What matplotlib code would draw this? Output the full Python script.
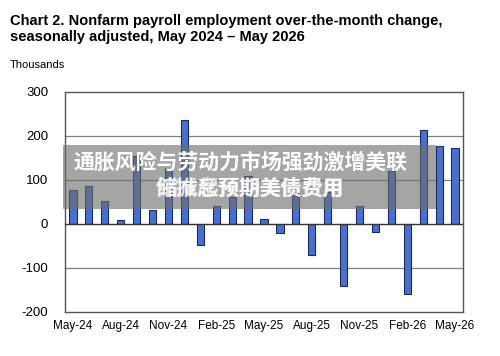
import matplotlib
matplotlib.use('Agg')
import matplotlib.pyplot as plt
from matplotlib.patches import Rectangle

plt.rcParams['font.family'] = ['Liberation Sans', 'DejaVu Sans']

months = ['May-24', 'Jun-24', 'Jul-24', 'Aug-24', 'Sep-24', 'Oct-24', 'Nov-24', 'Dec-24',
          'Jan-25', 'Feb-25', 'Mar-25', 'Apr-25', 'May-25', 'Jun-25', 'Jul-25', 'Aug-25',
          'Sep-25', 'Oct-25', 'Nov-25', 'Dec-25', 'Jan-26', 'Feb-26', 'Mar-26', 'Apr-26',
          'May-26']
change = [78, 87, 52, 8, 155, 32, 127, 236,
          -48, 41, 61, 108, 12, -20, 70, -71,
          72, -142, 41, -18, 121, -158, 214, 178,
          172]
yticks = [-200, -100, 0, 100, 200, 300]

title = ('Chart 2. Nonfarm payroll employment over-the-month change,\n'
         'seasonally adjusted, May 2024 \u2013 May 2026')
banner1 = '通胀风险与劳动力市场强劲激增美联'
banner2a = '储推息预期美债费用'
banner2b = '缩减起预期美债费用'

fig = plt.figure(figsize=(5, 3.56), dpi=100)
ax = fig.add_axes([0.13, 0.1236, 0.796, 0.618])

x = list(range(len(months)))
ax.bar(x, change, 0.45, color='#4a6fd0', edgecolor='#1c2a5c', linewidth=0.8, zorder=3)

ax.set_xlim(-0.5, len(months) - 0.5)
ax.set_ylim(-200, 300)
ax.set_yticks(yticks)
ax.set_yticklabels([str(v) for v in yticks], fontsize=9.5)
ax.set_xticks(x[::3])
ax.set_xticklabels(months[::3], fontsize=8.5)
ax.tick_params(length=0, pad=6)
ax.tick_params(axis='y', pad=12)
for v in [-100, 100, 200]:
    ax.axhline(v, color='#808080', linewidth=0.9, zorder=1)
ax.axhline(0, color='#333333', linewidth=1.0, zorder=4)
for s in ax.spines.values():
    s.set_color('#555555')
    s.set_linewidth(1.0)

fig.text(0.02, 1 - 14 / 356, title, va='top', ha='left', fontsize=10.5,
         fontweight='bold', linespacing=1.2)
fig.text(0.02, 1 - 65 / 356, 'Thousands', va='center', ha='left', fontsize=8)

# grey banner over the chart
fig.patches.append(Rectangle((63 / 500, 1 - 209 / 356), 373 / 500, 64 / 356,
                             transform=fig.transFigure, facecolor='#6e6e6e',
                             alpha=0.62, edgecolor='none', zorder=10))
cjk = ['Noto Sans CJK SC', 'DejaVu Sans']
fig.text(240 / 500, 1 - 162 / 356, banner1, ha='center', va='center', fontsize=15,
         fontweight='bold', color='white', family=cjk, zorder=11)
for s in [banner2a, banner2b]:
    fig.text(250 / 500, 1 - 188 / 356, s, ha='center', va='center', fontsize=15,
             fontweight='bold', color='white', family=cjk, alpha=0.8, zorder=11)

fig.savefig('out.png', dpi=100)
